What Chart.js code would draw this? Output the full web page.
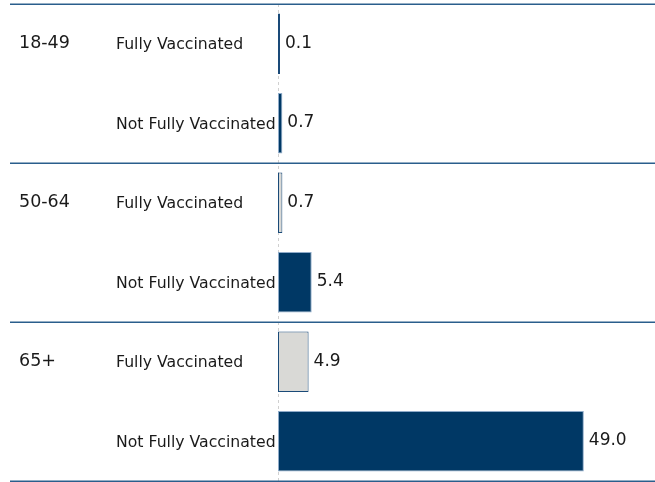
<!DOCTYPE html>
<html>
<head>
<meta charset="utf-8">
<script src="https://cdn.jsdelivr.net/npm/chart.js@4.4.0/dist/chart.umd.min.js"></script>
<style>
  html, body { margin: 0; padding: 0; background: #fff; overflow: hidden; }
  #wrap { width: 655px; height: 482px; }
</style>
</head>
<body>
<div id="wrap"><canvas id="rateChart" width="655" height="482"></canvas></div>
<script>
// age groups, one per two rows
const ageGroups = ["18-49", "50-64", "65+"];
const statusLabels = ["Fully Vaccinated", "Not Fully Vaccinated"];
// rows: [fully, not fully] for each age group, in order
const rowValues = [0.1, 0.7, 0.7, 5.4, 4.9, 49.0];
const rowStatus = [0, 1, 0, 1, 0, 1];

const rowLabels = rowValues.map((v, i) => ageGroups[Math.floor(i / 2)] + " " + statusLabels[rowStatus[i]]);

const fillColors = rowStatus.map(s => s === 0 ? "#d9d9d6" : "#003865");
const edgeColors = rowStatus.map(s => s === 0 ? "#1a4a78" : "#8fabc9");

const FONT = "'DejaVu Sans', sans-serif";

// dashed zero line, behind the bars
const zeroLinePlugin = {
  id: "zeroLine",
  beforeDatasetsDraw(chart) {
    const ctx = chart.ctx;
    const x = chart.scales.x;
    const area = chart.chartArea;
    const px = Math.round(x.getPixelForValue(0)) + 0.5;
    ctx.save();
    ctx.strokeStyle = "#d0d0d0";
    ctx.lineWidth = 1;
    ctx.setLineDash([3, 3]);
    ctx.beginPath();
    ctx.moveTo(px, area.top);
    ctx.lineTo(px, area.bottom + 2);
    ctx.stroke();
    ctx.restore();
  }
};

// ---- labels on the left, separators and the bar values ----
const tablePlugin = {
  id: "tableLabels",
  afterDraw(chart) {
    const ctx = chart.ctx;
    const y = chart.scales.y;
    const x = chart.scales.x;
    const step = y.getPixelForValue(1) - y.getPixelForValue(0);

    ctx.save();
    // group separators
    ctx.strokeStyle = "#2a5e8c";
    ctx.lineWidth = 1.5;
    for (let g = 0; g <= ageGroups.length; g++) {
      const py = Math.round(y.getPixelForValue(g * 2) - step / 2) + 0.25;
      ctx.beginPath();
      ctx.moveTo(10, py);
      ctx.lineTo(655, py);
      ctx.stroke();
    }

    ctx.fillStyle = "#1a1a1a";
    ctx.textBaseline = "middle";
    ctx.textAlign = "left";
    rowValues.forEach((v, i) => {
      const py = y.getPixelForValue(i);
      if (rowStatus[i] === 0) {
        ctx.font = "17.5px " + FONT;
        ctx.fillText(ageGroups[Math.floor(i / 2)], 19, py);
      }
      ctx.font = "15.7px " + FONT;
      ctx.fillText(statusLabels[rowStatus[i]], 116, py + 1.5);
      ctx.font = "17px " + FONT;
      const end = Math.max(x.getPixelForValue(v), x.getPixelForValue(0) + 2);
      ctx.fillText(v.toFixed(1), end + 5, py - 0.5);
    });
    ctx.restore();
  }
};

function drawChart() {
  new Chart(document.getElementById("rateChart"), {
    type: "bar",
    data: {
      labels: rowLabels,
      datasets: [{
        data: rowValues,
        backgroundColor: fillColors,
        borderColor: edgeColors,
        borderWidth: 1,
        borderSkipped: false,
        minBarLength: 2,
        barPercentage: 0.76,
        categoryPercentage: 1
      }]
    },
    options: {
      indexAxis: "y",
      responsive: false,
      animation: false,
      layout: { padding: { left: 278, top: 4, bottom: 1, right: 5 } },
      plugins: { legend: { display: false }, tooltip: { enabled: false } },
      scales: {
        x: { min: 0, max: 59.6, display: false },
        y: { display: false }
      }
    },
    plugins: [zeroLinePlugin, tablePlugin]
  });
}

Promise.all([
  document.fonts.load("17px 'DejaVu Sans'"),
  document.fonts.load("15px 'DejaVu Sans'")
]).then(drawChart, drawChart);
</script>
</body>
</html>
